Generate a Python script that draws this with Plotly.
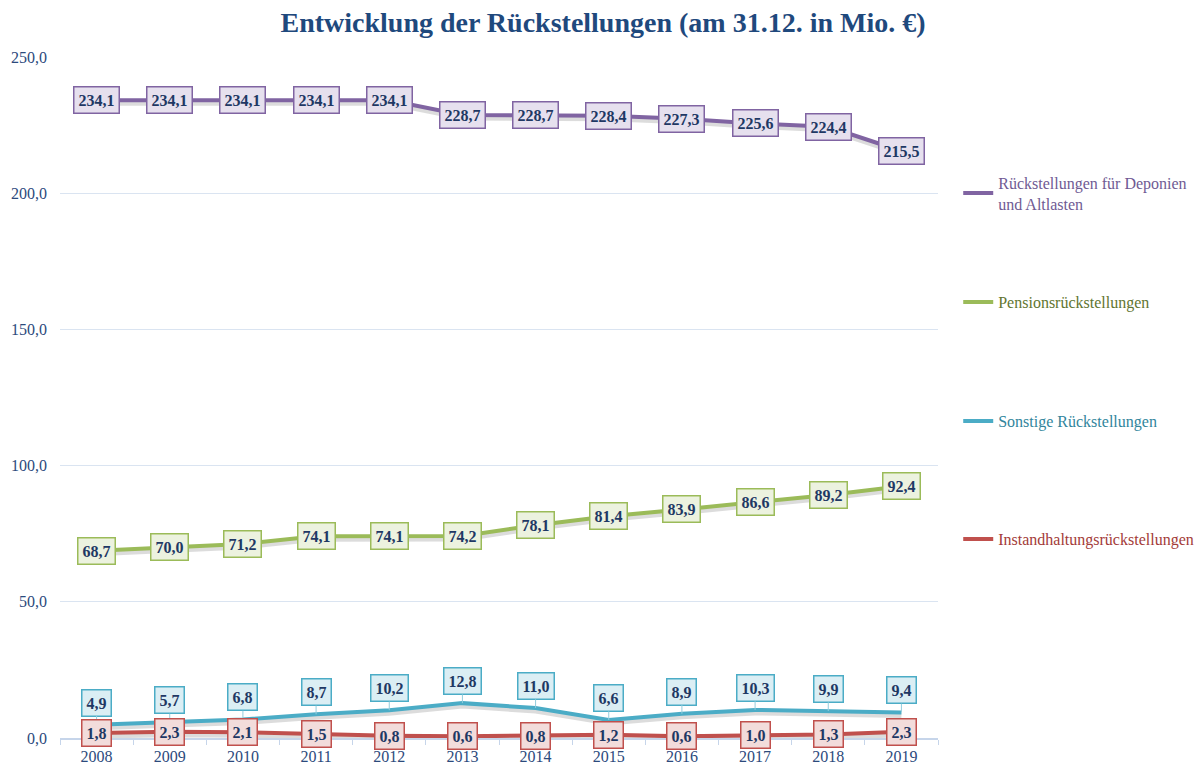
import plotly.graph_objects as go

YEARS = ["2008", "2009", "2010", "2011", "2012", "2013",
         "2014", "2015", "2016", "2017", "2018", "2019"]
DEPONIEN = [234.1, 234.1, 234.1, 234.1, 234.1, 228.7,
            228.7, 228.4, 227.3, 225.6, 224.4, 215.5]
PENSION = [68.7, 70.0, 71.2, 74.1, 74.1, 74.2,
           78.1, 81.4, 83.9, 86.6, 89.2, 92.4]
SONSTIGE = [4.9, 5.7, 6.8, 8.7, 10.2, 12.8,
            11.0, 6.6, 8.9, 10.3, 9.9, 9.4]
INSTAND = [1.8, 2.3, 2.1, 1.5, 0.8, 0.6,
           0.8, 1.2, 0.6, 1.0, 1.3, 2.3]
NAMES = ["Rückstellungen für Deponien<br>und Altlasten",
         "Pensionsrückstellungen",
         "Sonstige Rückstellungen",
         "Instandhaltungsrückstellungen"]

FONT = "Liberation Serif"
LINE_COLORS = ["#8064a2", "#9bbb59", "#4bacc6", "#c0504d"]
FILL_COLORS = ["#e6e0ee", "#ecf2df", "#dbeef4", "#f2dcdb"]
TEXT_COLORS = ["#6f5a93", "#5f7530", "#31859c", "#a33b38"]
LABEL_TEXT = "#1f3864"
LEGEND_Y = [0.80, 0.640, 0.4655, 0.292]

SERIES = [DEPONIEN, PENSION, SONSTIGE, INSTAND]


def fmt(v):
    return "{:.1f}".format(v).replace(".", ",")


fig = go.Figure()

# soft shadow under each line
for vals in SERIES:
    fig.add_trace(go.Scatter(
        x=YEARS, y=[v - 1.1 for v in vals], mode="lines",
        line=dict(color="rgba(60,60,60,0.18)", width=5),
        showlegend=False, hoverinfo="skip"))

for i, vals in enumerate(SERIES):
    fig.add_trace(go.Scatter(
        x=YEARS, y=vals, mode="lines", name=NAMES[i],
        line=dict(color=LINE_COLORS[i], width=4),
        legend="legend" if i == 0 else "legend%d" % (i + 1)))

# data labels; category axes want the serial index, not the "2008" string
for i, vals in enumerate(SERIES):
    for j, v in enumerate(vals):
        a = dict(x=j, y=v, xref="x", yref="y", text="<b>%s</b>" % fmt(v),
                 font=dict(family=FONT, size=16, color=LABEL_TEXT),
                 bgcolor=FILL_COLORS[i], bordercolor=LINE_COLORS[i],
                 borderwidth=1.5, borderpad=4, showarrow=False)
        if i == 2:
            a.update(showarrow=True, arrowhead=0, arrowwidth=1,
                     arrowcolor="#93cddd", ax=0, ay=-22)
        fig.add_annotation(**a)

# one legend per series so each entry can sit at its own height;
# container ref keeps them from squeezing the plot area
layout_legends = {}
for i in range(4):
    key = "legend" if i == 0 else "legend%d" % (i + 1)
    layout_legends[key] = dict(
        x=0.7945, xref="container", y=LEGEND_Y[i], xanchor="left",
        yanchor="middle", bgcolor="rgba(0,0,0,0)", itemwidth=30,
        font=dict(family=FONT, size=16, color=TEXT_COLORS[i]))

# page body adds an 8px offset, so the figure is drawn 8px smaller
fig.update_layout(
    width=1196, height=756,
    margin=dict(l=52, r=266, t=49, b=26),
    paper_bgcolor="white", plot_bgcolor="white",
    separators=",.",
    title=dict(text="<b>Entwicklung der Rückstellungen (am 31.12. in Mio. €)</b>",
               x=0.4975, xanchor="center", y=0.9815, yanchor="middle",
               yref="container",
               font=dict(family=FONT, size=28, color="#1f497d")),
    **layout_legends,
)

fig.update_xaxes(
    type="category", range=[-0.5, 11.5], showgrid=False, automargin=False,
    showline=True, linecolor="#c6d5ea", linewidth=1.5,
    ticks="outside", tickson="boundaries", ticklen=5, tickcolor="#c6d5ea",
    ticklabelstandoff=3,
    tickfont=dict(family=FONT, size=16, color="#2c4a7c"))
fig.update_yaxes(
    range=[0, 250], dtick=50, tickformat=".1f", automargin=False,
    showgrid=True, gridcolor="#dae4f1", gridwidth=1, zeroline=False,
    ticks="", ticklabelstandoff=12,
    tickfont=dict(family=FONT, size=16, color="#2c4a7c"))

fig.write_html("out.html")
